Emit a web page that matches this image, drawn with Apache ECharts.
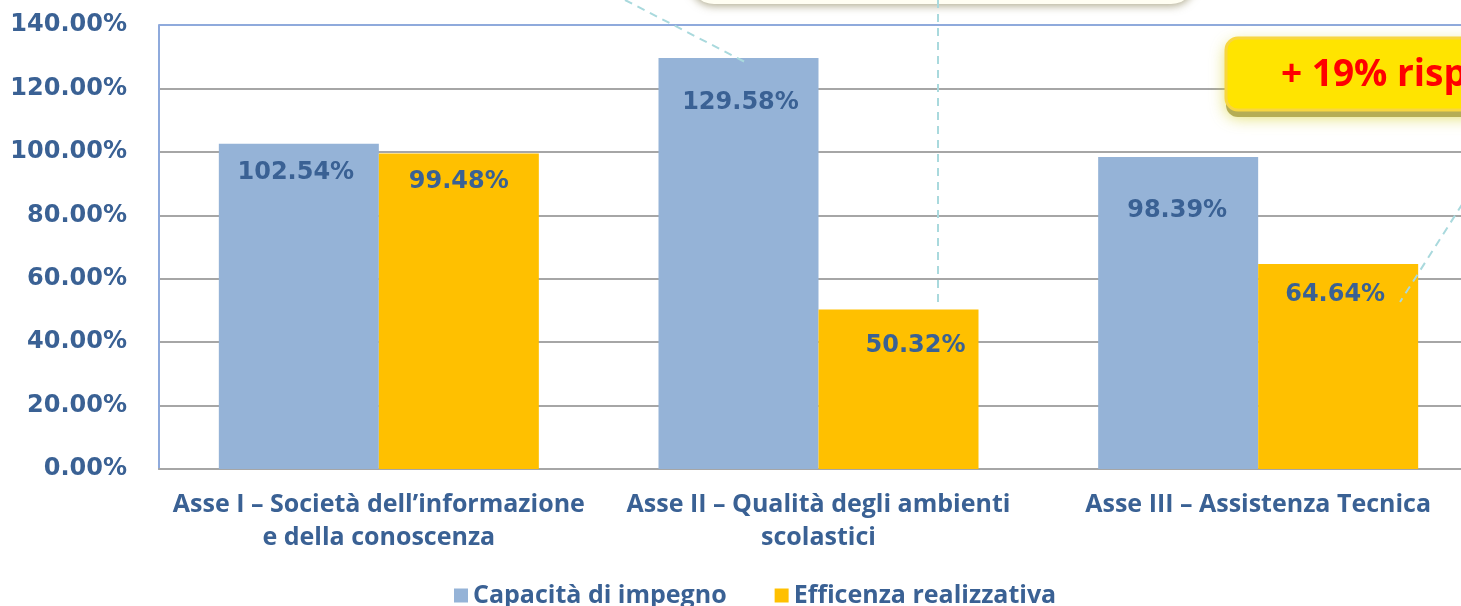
<!DOCTYPE html>
<html>
<head>
<meta charset="utf-8">
<script src="https://cdn.jsdelivr.net/npm/echarts@6/dist/echarts.min.js"></script>
<style>html,body{margin:0;padding:0;background:#fff}#c{width:1461px;height:606px}</style>
</head>
<body>
<div id="c"></div>
<script>
const categories = ['Asse I – Società dell’informazione\ne della conoscenza', 'Asse II – Qualità degli ambienti\nscolastici', 'Asse III – Assistenza Tecnica'];
const seriesNames = ['Capacità di impegno', 'Efficenza realizzativa'];
const capacita = [102.54, 129.58, 98.39];
const efficienza = [99.48, 50.32, 64.64];
const yTicks = {min: 0, max: 140, interval: 20};
const annotationText = '+ 19% risp';

const TXT = '#3A6194';
const numFont = 'DejaVu Sans';
const catFont = 'Open Sans';

// label placement (styles, not data)
const capLabelDist = [17, 33, 42];
const capLabelOff = [[-3, 0], [2, 0], [-1, 0]];
const effLabelDist = [16, 24, 19];
const effLabelOff = [[0, 0], [17, 0], [-3, 0]];

function mkData(vals, dists, offs) {
  return vals.map((v, i) => ({value: v, label: {distance: dists[i], offset: offs[i]}}));
}

const chart = echarts.init(document.getElementById('c'), null, {renderer: 'canvas'});
const dash = {stroke: '#A9D9DD', lineWidth: 2, lineDash: [8, 6]};
chart.setOption({
  animation: false,
  grid: {left: 159, top: 25, width: 1319, height: 444, containLabel: false, outerBoundsMode: 'none'},
  legend: {
    data: seriesNames, top: 578, left: 449, itemWidth: 14, itemHeight: 14, itemGap: 48,
    icon: 'rect',
    textStyle: {color: TXT, fontFamily: catFont, fontWeight: 'bold', fontSize: 25}
  },
  xAxis: {
    type: 'category', data: categories,
    axisLine: {lineStyle: {color: '#A6A6A6', width: 2}},
    axisTick: {show: false},
    axisLabel: {color: TXT, fontFamily: catFont, fontWeight: 'bold', fontSize: 25, lineHeight: 33, margin: 19, interval: 0}
  },
  yAxis: {
    type: 'value', min: yTicks.min, max: yTicks.max, interval: yTicks.interval,
    axisLine: {show: true, lineStyle: {color: '#8FAADC', width: 2}},
    axisTick: {show: false},
    axisLabel: {color: TXT, fontFamily: numFont, fontWeight: 'bold', fontSize: 24, margin: 32,
      formatter: v => v.toFixed(2) + '%'},
    splitLine: {lineStyle: {color: ['#A6A6A6','#A6A6A6','#A6A6A6','#A6A6A6','#A6A6A6','#A6A6A6','#A6A6A6','#8FAADC'], width: 2}}
  },
  series: [
    {name: seriesNames[0], type: 'bar', data: mkData(capacita, capLabelDist, capLabelOff),
     barWidth: 160, barGap: '0%',
     itemStyle: {color: '#95B3D7'},
     label: {show: true, position: 'insideTop', color: TXT, fontFamily: numFont, fontWeight: 'bold', fontSize: 24,
       formatter: p => p.value.toFixed(2) + '%'}},
    {name: seriesNames[1], type: 'bar', data: mkData(efficienza, effLabelDist, effLabelOff),
     barWidth: 160, barGap: '0%',
     itemStyle: {color: '#FFC000'},
     label: {show: true, position: 'insideTop', color: TXT, fontFamily: numFont, fontWeight: 'bold', fontSize: 24,
       formatter: p => p.value.toFixed(2) + '%'}}
  ],
  graphic: [
    {type: 'rect', z: 10, shape: {x: 690, y: -70, width: 505, height: 74, r: 24},
     style: {fill: '#FFFEF2', shadowBlur: 8, shadowColor: 'rgba(110,100,50,0.55)', shadowOffsetY: 2}},
    {type: 'line', z: 10, shape: {x1: 625, y1: 0, x2: 745, y2: 62}, style: dash},
    {type: 'line', z: 10, shape: {x1: 938, y1: 0, x2: 938, y2: 302}, style: dash},
    {type: 'line', z: 10, shape: {x1: 1470, y1: 192, x2: 1400, y2: 302}, style: dash},
    {type: 'rect', z: 10, shape: {x: 1226, y: 43, width: 280, height: 74, r: 12},
     style: {fill: '#B5AD55', shadowBlur: 16, shadowColor: 'rgba(215,210,40,0.75)'}},
    {type: 'rect', z: 11, shape: {x: 1226, y: 38, width: 280, height: 72, r: 12},
     style: {fill: '#FFE400', stroke: '#F8D640', lineWidth: 3}},
    {type: 'text', z: 12, x: 1281, y: 75,
     style: {text: annotationText, fill: '#FF0000', font: 'bold 37px "Open Sans"', textVerticalAlign: 'middle', verticalAlign: 'middle'}}
  ]
});
</script>
</body>
</html>
